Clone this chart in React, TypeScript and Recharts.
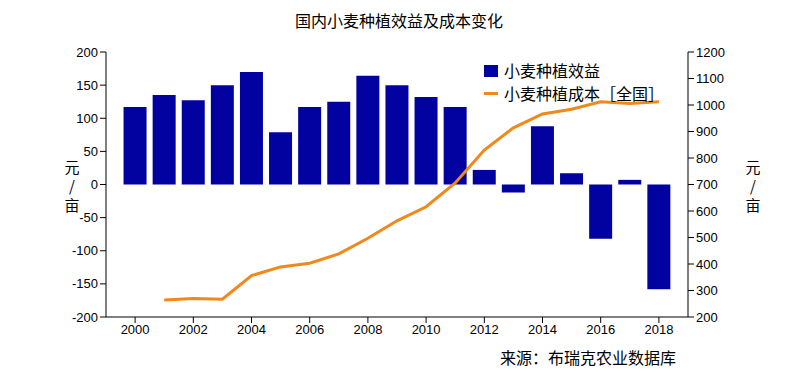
import { ComposedChart, Bar, Line, XAxis, YAxis } from 'recharts';

const years = [2000, 2001, 2002, 2003, 2004, 2005, 2006, 2007, 2008, 2009, 2010, 2011, 2012, 2013, 2014, 2015, 2016, 2017, 2018];
const profit = [117, 135, 127, 150, 170, 79, 117, 125, 164, 150, 132, 117, 22, -12, 88, 17, -82, 7, -158];
const cost = [null, 264, 270, 267, 356, 389, 403, 438, 497, 563, 616, 706, 830, 914, 966, 984, 1012, 1006, 1012];

const xTicks = [2000, 2002, 2004, 2006, 2008, 2010, 2012, 2014, 2016, 2018];
const leftTicks = [-200, -150, -100, -50, 0, 50, 100, 150, 200];
const rightTicks = [200, 300, 400, 500, 600, 700, 800, 900, 1000, 1100, 1200];
const unitChars = ['元', '/', '亩'];

const data = years.map((y, i) => ({ year: y, profit: profit[i], cost: cost[i] }));

const BAR = '#0202a0';
const LINE = '#f0881a';
const tickFont = { fontSize: 13, fill: '#000', fontFamily: 'Liberation Sans, Arial, sans-serif' };
const cjk = '"Noto Sans CJK SC", sans-serif';

function UnitLabel({ x }: { x: number }) {
  return (
    <>
      {unitChars.map((c, i) => (
        <div
          key={i}
          style={{ position: 'absolute', left: x, top: 159 + i * 19, width: 20, height: 16, textAlign: 'center', fontSize: 15, lineHeight: '16px', fontFamily: cjk, color: '#000' }}
        >
          {c}
        </div>
      ))}
    </>
  );
}

export default function App() {
  return (
    <div style={{ position: 'absolute', left: 0, top: 0, width: 795, height: 372, background: '#fff' }}>
      <div style={{ position: 'absolute', left: 0, top: 8, width: 798, textAlign: 'center', fontSize: 16, fontFamily: cjk, color: '#000' }}>
        国内小麦种植效益及成本变化
      </div>
      <ComposedChart width={795} height={372} data={data} margin={{ top: 52, right: 0, bottom: 25, left: 0 }}>
        <XAxis
          dataKey="year"
          type="number"
          domain={[1999, 2019]}
          ticks={xTicks}
          allowDataOverflow
          height={30}
          stroke="#000"
          tick={tickFont}
          tickSize={6}
          tickMargin={2}
        />
        <YAxis
          yAxisId="left"
          domain={[-200, 200]}
          ticks={leftTicks}
          width={106}
          stroke="#000"
          tick={tickFont}
          tickSize={6}
          interval={0}
        />
        <YAxis
          yAxisId="right"
          orientation="right"
          domain={[200, 1200]}
          ticks={rightTicks}
          width={107}
          stroke="#000"
          tick={tickFont}
          tickSize={6}
          interval={0}
        />
        <Bar yAxisId="left" dataKey="profit" fill={BAR} barSize={23} isAnimationActive={false} />
        <Line yAxisId="right" dataKey="cost" stroke={LINE} strokeWidth={3} dot={false} isAnimationActive={false} />
      </ComposedChart>
      <UnitLabel x={62} />
      <UnitLabel x={743} />
      <div style={{ position: 'absolute', left: 484, top: 59, fontSize: 16, fontFamily: cjk, color: '#000', lineHeight: '23px' }}>
        <div style={{ display: 'flex', alignItems: 'center' }}>
          <span style={{ display: 'inline-block', width: 14, height: 12, background: BAR, marginRight: 6 }} />
          小麦种植效益
        </div>
        <div style={{ display: 'flex', alignItems: 'center' }}>
          <span style={{ display: 'inline-block', width: 14, height: 3, background: LINE, marginRight: 6 }} />
          小麦种植成本［全国］
        </div>
      </div>
      <div style={{ position: 'absolute', left: 500, top: 345, fontSize: 16, fontFamily: cjk, color: '#000' }}>
        来源：布瑞克农业数据库
      </div>
    </div>
  );
}
